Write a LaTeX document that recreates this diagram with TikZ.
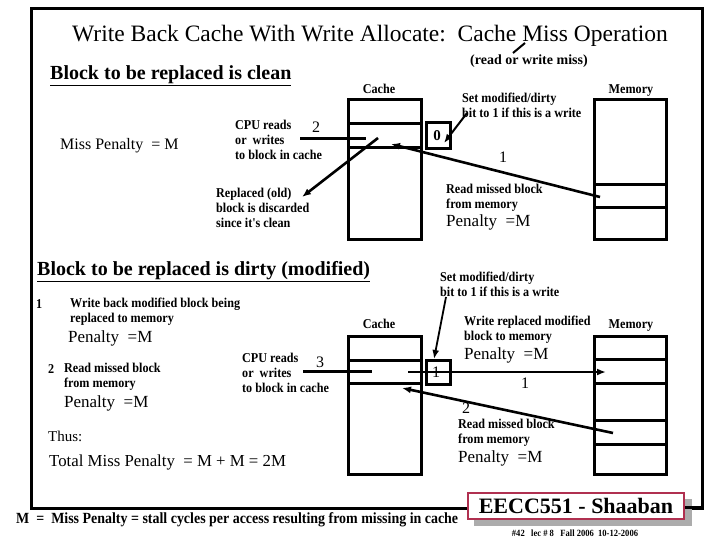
\documentclass[tikz,border=0pt]{standalone}
\usepackage{fontspec}
\setmainfont{Liberation Serif}
\newfontfamily\cond[FakeStretch=0.9]{Liberation Serif}
\usetikzlibrary{arrows.meta}
\definecolor{crim}{RGB}{176,48,80}
\tikzset{
  thk/.style={line width=3pt},
  box/.style={line width=3pt},
  arr/.style={line width=2.6pt,-{Latex[length=9pt,width=7pt]}},
  lbl/.style={font=\cond\bfseries\fontsize{13.5}{14.8}\selectfont,align=left,inner sep=0pt},
  pen/.style={font=\fontsize{17}{19}\selectfont,inner sep=0pt},
  head/.style={font=\bfseries\fontsize{20}{22}\selectfont,inner sep=0pt},
  num/.style={font=\fontsize{16}{18}\selectfont,inner sep=0pt},
}
\begin{document}
\begin{tikzpicture}[x=1pt,y=-1pt]
\useasboundingbox (0,0) rectangle (720,540);
% frame
\draw[thk] (31,9) rectangle (702,508);
% title
\node[inner sep=0pt,font=\fontsize{23.5}{25}\selectfont] (title) at (370,36) {Write Back Cache With Write Allocate:\ \ Cache Miss Operation};
\node[lbl,anchor=west,font=\bfseries\fontsize{14}{16}\selectfont] (rw) at (470,61) {(read or write miss)};
\coordinate (rwa) at (525,43);
\coordinate (rwb) at (513,53);
\draw[line width=2pt] (rwa) -- (rwb);

% ===== clean section =====
\node[head,anchor=west] (h1) at (50,76) {\underline{Block to be replaced is clean}};
\node[anchor=west,inner sep=0pt,font=\fontsize{16}{18}\selectfont] (mp) at (60,146) {Miss Penalty\ \ = M};
\node[lbl] (cache1) at (379,89) {Cache};
\node[lbl] (mem1) at (631,91) {Memory};
\node[lbl,anchor=west] (set1) at (462,105) {Set modified/dirty\\bit to 1 if this is a write};
% cache box
\draw[box] (348,100) rectangle (421,239);
\draw[box] (348,124) -- (421,124);
\draw[box] (348,148) -- (421,148);
% dirty box
\draw[box] (426,123) rectangle (450,149);
\node[font=\bfseries\fontsize{15}{17}\selectfont] (d0) at (437,136) {0};
% memory box
\draw[box] (594,100) rectangle (666,239);
\draw[box] (594,185) -- (666,185);
\draw[box] (594,208) -- (666,208);
% labels
\node[lbl,anchor=west] (cpu1) at (235,140) {CPU reads\\or\ \ writes\\to block in cache};
\node[num] (n2a) at (316,127) {2};
\node[lbl,anchor=west] (rep) at (216,208) {Replaced (old)\\block is discarded\\since it's clean};
\node[lbl,anchor=west] (rd1) at (446,198) {Read missed block\\from memory};
\node[pen,anchor=west] (p1) at (446,222) {Penalty\ \ =M};
\node[num] (n1a) at (503,157) {1};
% connectors
\coordinate (c1a) at (300,139);
\coordinate (c1b) at (366,139);
\draw[line width=3pt] (c1a) -- (c1b);
\coordinate (r1a) at (378,138);
\coordinate (r1b) at (302,197);
\draw[arr] (r1a) -- (r1b);
\coordinate (m1a) at (600,197);
\coordinate (m1b) at (391,144);
\draw[arr] (m1a) -- (m1b);
\coordinate (s1a) at (467,113);
\coordinate (s1b) at (444,143);
\draw[arr,line width=2pt] (s1a) -- (s1b);

% ===== dirty section =====
\node[head,anchor=west] (h2) at (37,272) {\underline{Block to be replaced is dirty (modified)}};
\node[lbl,anchor=west] (set2) at (440,284) {Set modified/dirty\\bit to 1 if this is a write};
\node[lbl,anchor=west] (one) at (36,304) {1};
\node[lbl,anchor=west] (wb) at (70,312) {Write back modified block being\\replaced to memory};
\node[pen,anchor=west] (p2) at (68,338) {Penalty\ \ =M};
\node[lbl,anchor=west] (two) at (48,369) {2};
\node[lbl,anchor=west] (rd2) at (64,377) {Read missed block\\from memory};
\node[pen,anchor=west] (p3) at (64,403) {Penalty\ \ =M};
\node[anchor=west,inner sep=0pt,font=\fontsize{15}{17}\selectfont] (thus) at (48,436) {Thus:};
\node[anchor=west,inner sep=0pt,font=\fontsize{16.8}{18}\selectfont] (tot) at (49,462) {Total Miss Penalty\ \ = M + M = 2M};
\node[lbl] (cache2) at (379,324) {Cache};
\node[lbl] (mem2) at (631,326) {Memory};
\node[lbl,anchor=west] (wr) at (464,330) {Write replaced modified\\block to memory};
\node[pen,anchor=west] (p4) at (464,355) {Penalty\ \ =M};
\node[lbl,anchor=west] (cpu2) at (242,373) {CPU reads\\or\ \ writes\\to block in cache};
\node[num] (n3) at (320,362) {3};
\node[num] (n1b) at (525,383) {1};
\node[num] (n2b) at (466,408) {2};
\node[lbl,anchor=west] (rd3) at (458,433) {Read missed block\\from memory};
\node[pen,anchor=west] (p5) at (458,458) {Penalty\ \ =M};
% cache box
\draw[box] (348,336) rectangle (421,474);
\draw[box] (348,360) -- (421,360);
\draw[box] (348,383) -- (421,383);
% dirty box
\draw[box] (426,360) rectangle (450,384);
\node[num] (d1) at (436,372) {1};
% memory
\draw[box] (594,336) rectangle (666,474);
\draw[box] (594,359) -- (666,359);
\draw[box] (594,383) -- (666,383);
\draw[box] (594,420) -- (666,420);
\draw[box] (594,444) -- (666,444);
% connectors
\coordinate (c2a) at (303,371);
\coordinate (c2b) at (372,371);
\draw[line width=3pt] (c2a) -- (c2b);
\coordinate (w2a) at (408,372);
\coordinate (w2b) at (606,372);
\draw[arr,line width=2pt] (w2a) -- (w2b);
\coordinate (m2a) at (613,433);
\coordinate (m2b) at (402,388);
\draw[arr] (m2a) -- (m2b);
\coordinate (s2a) at (446,297);
\coordinate (s2b) at (434,359);
\draw[arr,line width=1.8pt] (s2a) -- (s2b);

% footer
\node[anchor=west,inner sep=0pt,font=\cond\bfseries\fontsize{15.5}{17}\selectfont] (foot) at (16,520) {M\ \ =\ \ Miss Penalty = stall cycles per access resulting from missing in cache};
\fill[gray!65] (474,499) rectangle (692,526);
\draw[line width=3pt] (684,507) -- (702,507);
\draw[crim,line width=2.5pt,fill=white] (468,493) rectangle (684,519);
\node[font=\bfseries\fontsize{22}{24}\selectfont,inner sep=0pt] (ee) at (576,506) {EECC551 - Shaaban};
\node[font=\cond\bfseries\fontsize{9.5}{11}\selectfont,inner sep=0pt] (pg) at (575,533) {\#42\ \ \ lec \# 8\ \ \ Fall 2006\ \ 10-12-2006};
\end{tikzpicture}
\end{document}
